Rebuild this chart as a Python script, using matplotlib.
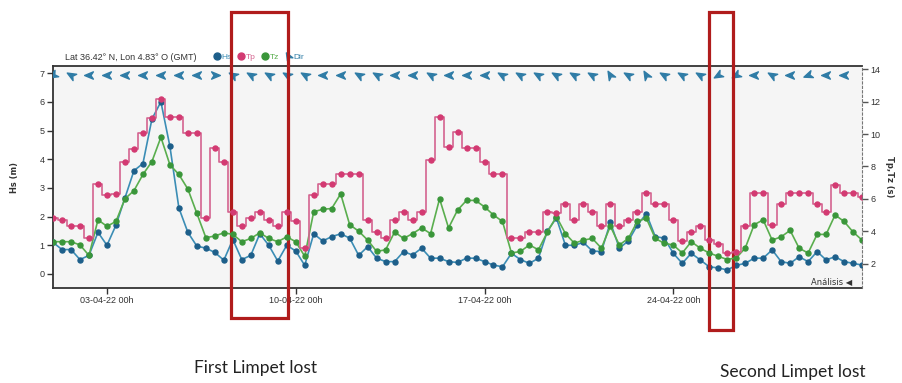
import matplotlib.pyplot as plt
import matplotlib.dates as mdates
from matplotlib.lines import Line2D
from matplotlib.markers import MarkerStyle
from matplotlib.patches import Rectangle
from matplotlib.path import Path
from matplotlib.transforms import Affine2D, blended_transform_factory
import pandas as pd

# --- Data (8-hourly from 01-04-22 00h) ---
START = "2022-04-01 00:00"
END = "2022-05-01 00:00"

HS = [1.1, 0.85, 0.85, 0.5, 0.65, 1.45, 1.0, 1.7, 2.65, 3.6,
      3.85, 5.4, 6.0, 4.45, 2.3, 1.45, 0.97, 0.9, 0.75, 0.48,
      1.2, 0.5, 0.65, 1.4, 1.0, 0.45, 1.0, 0.8, 0.3, 1.4,
      1.15, 1.3, 1.4, 1.25, 0.65, 0.95, 0.55, 0.43, 0.43, 0.78,
      0.66, 0.9, 0.55, 0.55, 0.43, 0.4, 0.55, 0.55, 0.43, 0.31,
      0.25, 0.72, 0.5, 0.37, 0.55, 1.5, 1.95, 1.0, 1.0, 1.1,
      0.8, 0.78, 1.8, 0.9, 1.15, 1.7, 2.1, 1.3, 1.25, 0.72,
      0.37, 0.72, 0.49, 0.25, 0.21, 0.14, 0.3, 0.37, 0.55, 0.55,
      0.84, 0.43, 0.37, 0.6, 0.43, 0.78, 0.49, 0.6, 0.43, 0.37, 0.31]

TP = [4.8, 4.7, 4.3, 4.3, 3.55, 6.9, 6.25, 6.3, 8.3, 9.1,
      10.05, 11.0, 12.15, 11.05, 11.05, 10.05, 10.05, 4.8, 9.15, 8.3,
      5.2, 4.3, 4.8, 5.2, 4.7, 4.3, 5.2, 4.6, 2.95, 6.25,
      6.9, 6.9, 7.55, 7.55, 7.55, 4.7, 3.95, 3.55, 4.7, 5.2,
      4.7, 5.2, 8.4, 11.05, 9.2, 10.15, 9.15, 9.15, 8.3, 7.55,
      7.55, 3.55, 3.55, 3.95, 3.95, 5.2, 5.1, 5.7, 4.7, 5.7,
      5.2, 4.3, 5.7, 4.3, 4.7, 5.2, 6.35, 5.7, 5.7, 4.7,
      3.4, 3.95, 4.3, 3.45, 3.2, 2.65, 2.7, 4.3, 6.35, 6.35,
      4.4, 5.7, 6.35, 6.35, 6.35, 5.7, 5.2, 6.85, 6.35, 6.35, 6.1]

TZ = [3.35, 3.35, 3.35, 3.15, 2.5, 4.7, 4.3, 4.6, 6.0, 6.5,
      7.5, 8.3, 9.8, 8.1, 7.5, 6.6, 5.1, 3.6, 3.7, 3.9,
      3.8, 3.35, 3.55, 3.9, 3.55, 3.35, 3.65, 3.35, 2.45, 5.2,
      5.35, 5.4, 6.3, 4.4, 4.0, 3.45, 2.75, 2.85, 3.95, 3.55,
      3.85, 4.2, 3.85, 6.0, 4.2, 5.3, 5.9, 5.9, 5.5, 5.0,
      4.6, 2.65, 2.75, 3.15, 2.85, 3.95, 4.9, 3.85, 3.25, 3.45,
      3.55, 2.95, 4.3, 3.15, 3.55, 4.6, 4.8, 3.55, 3.25, 3.15,
      2.65, 3.35, 2.95, 2.65, 2.45, 2.25, 2.35, 2.95, 4.4, 4.7,
      3.45, 3.65, 4.05, 2.95, 2.65, 3.8, 3.8, 5.0, 4.6, 3.95, 3.45]

# wave direction arrows every 16 h (angle of arrow tip, degrees)
DIR = [210, 150, 180, 180, 180, 180, 180, 180, 180, 0,
       150, 150, 150, 150, 150, 180, 180, 150, 150, 180,
       180, 150, 180, 180, 180, 150, 150, 150, 150, 150,
       150, 120, 150, 120, 150, 150, 150, 210, 210, 180,
       150, 180, 200, 180, 180]

TICK_DATES = ["2022-04-03", "2022-04-10", "2022-04-17", "2022-04-24"]

LOST_WINDOWS = [("2022-04-07 14:00", "2022-04-09 17:00", -0.135),
                ("2022-04-25 07:30", "2022-04-26 05:30", -0.189)]
LOST_LABELS = [("First Limpet lost", 0.283, 0.040),
               ("Second Limpet lost", 0.879, 0.028)]

# --- Styles ---
C_HS, C_HS_DOT = '#3b8db5', '#1d5f8a'
C_TP, C_TP_DOT = '#d4638f', '#d33a72'
C_TZ, C_TZ_DOT = '#5aae4e', '#3a963a'
C_DIR = '#2f7ca6'
C_BOX = '#b01c1c'
SMALL = ['Liberation Sans', 'DejaVu Sans']

times = pd.date_range(START, periods=len(HS), freq="8h")
dir_times = pd.date_range(START, periods=len(DIR), freq="16h")

fig = plt.figure(figsize=(9.02, 3.83), dpi=100)
ax = fig.add_axes([0.0588, 0.248, 0.8969, 0.5797])
ax2 = ax.twinx()
ax.set_facecolor('#f5f5f5')

ax.plot(times, HS, color=C_HS, lw=1.2, marker='o', ms=3.6,
        mfc=C_HS_DOT, mec=C_HS_DOT, zorder=3)
ax2.plot(times, TZ, color=C_TZ, lw=1.2, marker='o', ms=3.6,
         mfc=C_TZ_DOT, mec=C_TZ_DOT, zorder=2)
ax2.plot(times, TP, color=C_TP, lw=1.2, marker='o', ms=3.6,
         mfc=C_TP_DOT, mec=C_TP_DOT, drawstyle='steps-mid', zorder=2)

# direction darts
arrow = Path([(1, 0), (-0.8, 0.75), (-0.3, 0), (-0.8, -0.75), (1, 0)],
             [Path.MOVETO, Path.LINETO, Path.LINETO, Path.LINETO, Path.CLOSEPOLY])
for t, a in zip(dir_times, DIR):
    m = MarkerStyle(arrow, transform=Affine2D().rotate_deg(a))
    ax.plot([t], [6.95], marker=m, ms=7, color=C_DIR, ls='none', zorder=4)

# axes limits / ticks
ax.set_xlim(pd.Timestamp(START), pd.Timestamp(END))
ax.set_ylim(-0.49, 7.25)
ax2.set_ylim(0.49, 14.2)
ax.set_yticks(range(0, 8))
ax2.set_yticks(range(2, 15, 2))
ax.set_xticks(pd.to_datetime(TICK_DATES))
ax.xaxis.set_major_formatter(mdates.DateFormatter('%d-%m-%y %Hh'))

ax.tick_params(axis='both', labelsize=6.5, length=4, width=1, color='#333333',
               labelcolor='#333333', pad=2)
ax2.tick_params(axis='y', labelsize=6.5, length=4, width=1, color='#555555',
                labelcolor='#333333', pad=2)
for lab in ax.get_xticklabels() + ax.get_yticklabels() + ax2.get_yticklabels():
    lab.set_family(SMALL)

for s in ['top', 'bottom', 'left']:
    ax.spines[s].set_color('#333333')
    ax.spines[s].set_linewidth(1.3)
    ax2.spines[s].set_visible(False)
ax.spines['right'].set_visible(False)
ax2.spines['right'].set_linestyle((0, (2, 2)))
ax2.spines['right'].set_color('#777777')

ax.set_ylabel('Hs (m)', fontsize=6, fontweight='bold', color='#333333')
ax.yaxis.set_label_coords(-0.042, 0.5)
ax2.set_ylabel('Tp,Tz (s)', fontsize=6, fontweight='bold', color='#333333',
               rotation=270)
ax2.yaxis.set_label_coords(1.04, 0.5)

# header: location + legend
fig.text(0.072, 0.851, 'Lat 36.42° N, Lon 4.83° O (GMT)', fontsize=6.5,
         family=SMALL, color='#333333', va='center')
handles = [Line2D([], [], ls='none', marker='o', ms=5, color=C_HS_DOT),
           Line2D([], [], ls='none', marker='o', ms=5, color=C_TP_DOT),
           Line2D([], [], ls='none', marker='o', ms=5, color=C_TZ_DOT),
           Line2D([], [], ls='none', marker=MarkerStyle(arrow, transform=Affine2D().rotate_deg(120)),
                  ms=6, color=C_DIR)]
leg = ax.legend(handles, ['Hs', 'Tp', 'Tz', 'Dir'], ncol=4, frameon=False,
                loc='center left', bbox_to_anchor=(0.197, 1.04),
                prop={'size': 6, 'family': SMALL},
                handletextpad=0.1, columnspacing=0.6, handlelength=1.0,
                borderaxespad=0, borderpad=0)
for txt, c in zip(leg.get_texts(), [C_HS, C_TP, C_TZ, C_DIR]):
    txt.set_color(c)

ax.text(0.988, 0.03, 'Análisis ◀', transform=ax.transAxes, ha='right',
        va='center', fontsize=6, color='#333333', zorder=5)

# limpet-lost boxes and captions
trans = blended_transform_factory(ax.transData, ax.transAxes)
for start, end, bottom in LOST_WINDOWS:
    x0 = mdates.date2num(pd.Timestamp(start))
    x1 = mdates.date2num(pd.Timestamp(end))
    ax.add_patch(Rectangle((x0, bottom), x1 - x0, 1.243 - bottom, transform=trans,
                           fill=False, ec=C_BOX, lw=2.3, clip_on=False, zorder=10))
for text, x, y in LOST_LABELS:
    fig.text(x, y, text, ha='center', va='center', fontsize=12.5,
             family=['Lato', 'DejaVu Sans'], color='#222222')

fig.savefig('out.png', dpi=100)
